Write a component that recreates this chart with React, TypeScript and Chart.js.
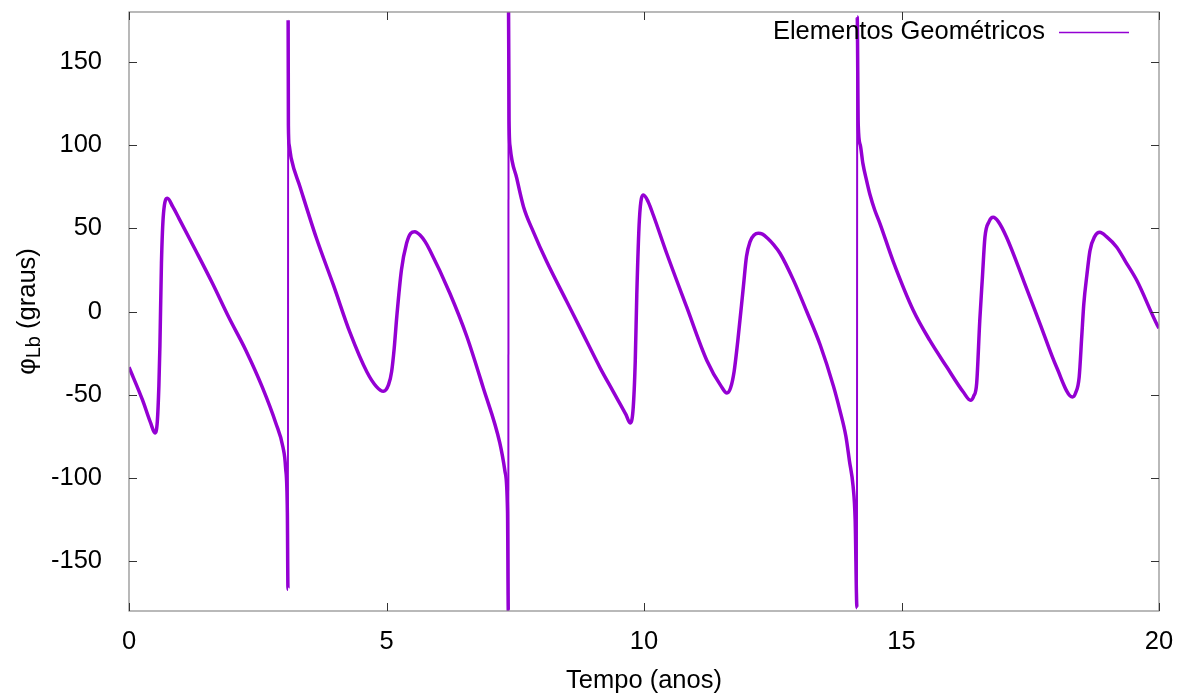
import React, { useEffect, useRef } from 'react';
import { Chart, registerables } from 'chart.js';

Chart.register(...registerables);

// Time in years
const TIME = [
  0.0, 0.26, 0.42, 0.505, 0.55, 0.58, 0.6, 0.63, 0.67, 0.745, 0.85, 0.97, 1.29, 1.62, 1.94, 2.27, 2.59, 2.85, 2.99, 3.04,
  3.075, 3.087, 3.09, 3.095, 3.11, 3.15, 3.32, 3.64, 3.97, 4.29, 4.62, 4.8, 4.94, 5.04, 5.1, 5.15, 5.2, 5.29, 5.39, 5.47,
  5.55, 5.65, 5.75, 5.84, 6.23, 6.56, 6.88, 7.2, 7.3, 7.35, 7.365, 7.37, 7.38, 7.4, 7.53, 7.66, 7.85, 8.11, 8.5, 8.76, 9.15,
  9.4, 9.65, 9.73, 9.79, 9.83, 9.86, 9.91, 9.99, 10.08, 10.18, 10.44, 10.83, 11.22, 11.5, 11.61, 11.68, 11.75, 11.82, 11.93, 11.99,
  12.06, 12.14, 12.22, 12.3, 12.4, 12.52, 12.64, 12.9, 13.16, 13.42, 13.68, 13.8, 13.92, 13.99, 14.06, 14.1, 14.135, 14.14, 14.16, 14.2,
  14.25, 14.32, 14.39, 14.48, 14.58, 14.84, 15.23, 15.55, 15.88, 16.2, 16.34, 16.4, 16.46, 16.52, 16.57, 16.62, 16.7, 16.78, 16.88, 17.04,
  17.37, 17.69, 18.01, 18.32, 18.38, 18.45, 18.5, 18.54, 18.6, 18.66, 18.75, 18.85, 18.98, 19.18, 19.35, 19.57, 19.97, 20.0,
];

// Phase angle in degrees
const PHASE = [
  -33.5, -53, -67, -73, -66, -45, -21, 29, 59, 68, 63, 56, 37, 17, -3.6, -23.4, -45.6, -67, -81.6, -93.6,
  -121, -167, 175, 112, 100, 92, 75, 44, 15.8, -12.6, -36.4, -45, -48, -44, -36, -22, -3, 25, 41, 47,
  48, 46, 42, 37, 11, -15, -46, -79, -96, -120, -180, 180, 115, 99, 80, 63, 48, 30, 6, -10, -34,
  -48, -62, -67, -58, -30, 10, 55, 70, 66, 58, 35, 2.6, -29.4, -45, -49, -46, -36, -18, 15, 33,
  42, 46, 47, 46.5, 44, 40, 35, 19, 0, -20, -45, -59, -75, -90, -105, -125, -178, 177, 112, 100,
  89, 79, 70, 61, 53, 30, 0.6, -17.4, -33.4, -48.4, -53.4, -51, -43, -5.4, 20, 44.6, 54, 56.6, 54, 44.6,
  18.6, -7.4, -33.4, -51.4, -49, -39.4, -15, 4.6, 22, 36.6, 45, 47.6, 45, 38.6, 30, 18.6, -8.4, -10,
];

const X_TICKS = [0, 5, 10, 15, 20];
const Y_TICKS = [-150, -100, -50, 0, 50, 100, 150];
const SERIES_LABEL = 'Elementos Geométricos';
const X_TITLE = 'Tempo (anos)';
const Y_TITLE_MAIN = 'φ';
const Y_TITLE_SUB = 'Lb';
const Y_TITLE_REST = ' (graus)';

const LINE_COLOR = '#9400D3';
const FONT = '"Liberation Sans", Arial, sans-serif';
const FS = 25.5;

const decorPlugin = {
  id: 'decor',
  afterDraw(chart: any) {
    const { ctx, chartArea: a, scales } = chart;
    const xs = scales.x;
    const ys = scales.y;
    ctx.save();
    // border
    ctx.strokeStyle = '#8a8a8a';
    ctx.lineWidth = 1.2;
    ctx.strokeRect(a.left, a.top, a.right - a.left, a.bottom - a.top);
    // inward ticks (mirrored)
    ctx.strokeStyle = '#333';
    ctx.lineWidth = 1;
    ctx.beginPath();
    X_TICKS.forEach((v) => {
      const px = Math.round(xs.getPixelForValue(v)) + 0.5;
      ctx.moveTo(px, a.bottom);
      ctx.lineTo(px, a.bottom - 8);
      ctx.moveTo(px, a.top);
      ctx.lineTo(px, a.top + 8);
    });
    Y_TICKS.forEach((v) => {
      const py = Math.round(ys.getPixelForValue(v)) + 0.5;
      ctx.moveTo(a.left, py);
      ctx.lineTo(a.left + 8, py);
      ctx.moveTo(a.right, py);
      ctx.lineTo(a.right - 8, py);
    });
    ctx.stroke();

    ctx.fillStyle = '#000';
    // x title
    ctx.font = `${FS}px ${FONT}`;
    ctx.textAlign = 'center';
    ctx.textBaseline = 'middle';
    ctx.fillText(X_TITLE, (a.left + a.right) / 2, 681);

    // y title (rotated, with subscript)
    ctx.save();
    ctx.translate(35, (a.top + a.bottom) / 2);
    ctx.rotate(-Math.PI / 2);
    ctx.textAlign = 'left';
    ctx.textBaseline = 'alphabetic';
    ctx.font = `${FS}px ${FONT}`;
    const w1 = ctx.measureText(Y_TITLE_MAIN).width;
    const w3 = ctx.measureText(Y_TITLE_REST).width;
    ctx.font = `20px ${FONT}`;
    const w2 = ctx.measureText(Y_TITLE_SUB).width;
    let sx = -(w1 + w2 + w3) / 2;
    ctx.font = `${FS}px ${FONT}`;
    ctx.fillText(Y_TITLE_MAIN, sx, 0);
    sx += w1;
    ctx.font = `20px ${FONT}`;
    ctx.fillText(Y_TITLE_SUB, sx, 5);
    sx += w2;
    ctx.font = `${FS}px ${FONT}`;
    ctx.fillText(Y_TITLE_REST, sx, 0);
    ctx.restore();

    // legend
    ctx.font = `${FS}px ${FONT}`;
    ctx.textAlign = 'right';
    ctx.textBaseline = 'middle';
    ctx.fillText(chart.data.datasets[0].label, 1045, 32);
    ctx.strokeStyle = LINE_COLOR;
    ctx.lineWidth = 1.6;
    ctx.beginPath();
    ctx.moveTo(1059, 32.5);
    ctx.lineTo(1129, 32.5);
    ctx.stroke();
    ctx.restore();
  },
};

export default function App() {
  const ref = useRef<HTMLCanvasElement | null>(null);

  useEffect(() => {
    document.body.style.margin = '0';
    if (!ref.current) return;
    const points = TIME.map((t, i) => ({ x: t, y: PHASE[i] }));
    const chart = new Chart(ref.current, {
      type: 'line',
      data: {
        datasets: [
          {
            label: SERIES_LABEL,
            data: points,
            borderColor: LINE_COLOR,
            backgroundColor: LINE_COLOR,
            borderWidth: 3.5,
            pointRadius: 0,
            cubicInterpolationMode: 'monotone',
            segment: {
              borderWidth: (c: any) => (Math.abs(c.p1.y - c.p0.y) > 150 ? 2 : 3.5),
            },
          },
        ],
      },
      options: {
        animation: false,
        responsive: true,
        maintainAspectRatio: false,
        layout: { autoPadding: false, padding: { left: 0, top: 12, right: 23, bottom: 0 } },
        plugins: { legend: { display: false }, tooltip: { enabled: false }, title: { display: false } },
        scales: {
          x: {
            type: 'linear',
            min: 0,
            max: 20,
            afterBuildTicks: (s: any) => {
              s.ticks = X_TICKS.map((v) => ({ value: v }));
            },
            afterFit: (s: any) => {
              s.height = 86;
              s.paddingLeft = 0;
              s.paddingRight = 0;
              s.paddingTop = 0;
              s.paddingBottom = 0;
            },
            grid: { display: false },
            border: { display: false },
            ticks: {
              color: '#000',
              padding: 8,
              maxRotation: 0,
              font: { family: FONT, size: FS },
            },
          },
          y: {
            type: 'linear',
            min: -180,
            max: 180,
            afterBuildTicks: (s: any) => {
              s.ticks = Y_TICKS.map((v) => ({ value: v }));
            },
            afterFit: (s: any) => {
              s.width = 129;
              s.paddingLeft = 0;
              s.paddingRight = 0;
              s.paddingTop = 0;
              s.paddingBottom = 0;
            },
            grid: { display: false },
            border: { display: false },
            ticks: {
              color: '#000',
              padding: 19,
              font: { family: FONT, size: FS },
            },
          },
        },
      },
      plugins: [decorPlugin],
    });
    return () => chart.destroy();
  }, []);

  return (
    <div style={{ position: 'absolute', left: 0, top: 0, width: 1182, height: 697, background: '#fff' }}>
      <canvas ref={ref} />
    </div>
  );
}
